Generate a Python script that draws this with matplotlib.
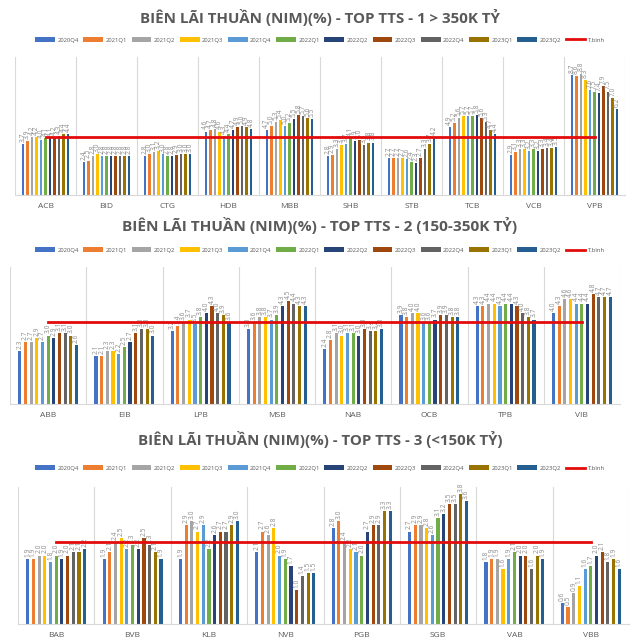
import matplotlib
matplotlib.use("Agg")
import matplotlib.pyplot as plt
import numpy as np

plt.rcParams['font.family'] = ['Open Sans', 'DejaVu Sans']

quarters = ["2020Q4", "2021Q1", "2021Q2", "2021Q3", "2021Q4", "2022Q1",
            "2022Q2", "2022Q3", "2022Q4", "2023Q1", "2023Q2"]
colors = ["#4472C4", "#ED7D31", "#A5A5A5", "#FFC000", "#5B9BD5", "#70AD47",
          "#264478", "#9E480E", "#636363", "#997300", "#255E91"]
avg_label = "T.bình"

# Panel 1: > 350K tỷ
banks1 = ["ACB", "BID", "CTG", "HDB", "MBB", "SHB", "STB", "TCB", "VCB", "VPB"]
nim1 = [
    [3.7, 3.9, 4.2, 4.2, 4.0, 4.1, 4.1, 4.2, 4.3, 4.4, 4.4],   # ACB
    [2.4, 2.5, 2.8, 3.0, 2.8, 2.8, 2.8, 2.8, 2.8, 2.8, 2.8],   # BID
    [2.8, 3.0, 3.1, 3.2, 3.0, 2.8, 2.8, 2.9, 3.0, 3.0, 3.0],   # CTG
    [4.6, 4.7, 4.8, 4.6, 4.3, 4.4, 4.7, 4.9, 5.0, 4.9, 4.8],   # HDB
    [4.7, 5.0, 5.3, 5.4, 5.0, 5.2, 5.5, 5.8, 5.7, 5.6, 5.5],   # MBB
    [2.8, 2.9, 3.3, 3.6, 3.7, 4.1, 3.9, 4.0, 3.6, 3.8, 3.8],   # SHB
    [2.7, 2.7, 2.7, 2.7, 2.6, 2.4, 2.3, 2.7, 3.3, 3.7, 4.2],   # STB
    [4.9, 5.2, 5.6, 5.7, 5.7, 5.7, 5.8, 5.6, 5.3, 4.7, 4.4],   # TCB
    [2.9, 3.1, 3.3, 3.3, 3.2, 3.3, 3.2, 3.3, 3.4, 3.4, 3.5],   # VCB
    [8.7, 8.6, 8.8, 8.3, 7.6, 7.5, 7.4, 7.9, 7.5, 7.0, 6.2],   # VPB
]
avg1 = 4.2

# Panel 2: 150-350K tỷ
banks2 = ["ABB", "EIB", "LPB", "MSB", "NAB", "OCB", "TPB", "VIB"]
nim2 = [
    [2.3, 2.7, 2.7, 2.9, 2.7, 3.0, 2.9, 3.1, 3.1, 3.0, 2.6],   # ABB
    [2.1, 2.1, 2.3, 2.3, 2.2, 2.5, 2.7, 3.1, 3.3, 3.3, 3.0],   # EIB
    [3.2, 3.4, 3.6, 3.7, 3.5, 3.8, 4.0, 4.3, 4.0, 3.9, 3.6],   # LPB
    [3.3, 3.6, 3.8, 3.8, 3.7, 3.9, 4.3, 4.5, 4.4, 4.3, 4.3],   # MSB
    [2.4, 2.8, 3.1, 3.0, 3.1, 3.1, 3.0, 3.3, 3.2, 3.2, 3.3],   # NAB
    [3.9, 3.8, 4.0, 4.0, 3.6, 3.6, 3.7, 3.9, 3.9, 3.8, 3.8],   # OCB
    [4.3, 4.3, 4.4, 4.4, 4.3, 4.4, 4.4, 4.3, 4.0, 3.8, 3.7],   # TPB
    [4.0, 4.3, 4.6, 4.6, 4.4, 4.4, 4.4, 4.8, 4.7, 4.7, 4.7],   # VIB
]
avg2 = 3.6

# Panel 3: < 150K tỷ
banks3 = ["BAB", "BVB", "KLB", "NVB", "PGB", "SGB", "VAB", "VBB"]
nim3 = [
    [1.9, 1.9, 2.0, 2.0, 1.8, 2.0, 1.9, 2.0, 2.1, 2.1, 2.2],   # BAB
    [1.9, 2.1, 2.4, 2.5, 2.2, 2.3, 2.2, 2.5, 2.3, 2.1, 1.9],   # BVB
    [1.9, 2.9, 3.0, 2.7, 2.9, 2.2, 2.6, 2.7, 2.7, 2.9, 3.0],   # KLB
    [2.1, 2.7, 2.6, 2.8, 2.0, 1.9, 1.7, 1.0, 1.4, 1.5, 1.5],   # NVB
    [2.8, 3.0, 2.4, 2.2, 2.1, 2.0, 2.7, 2.9, 2.9, 3.3, 3.3],   # PGB
    [2.7, 2.9, 2.9, 2.8, 2.6, 3.1, 3.2, 3.5, 3.5, 3.8, 3.6],   # SGB
    [1.8, 1.9, 1.9, 1.6, 1.9, 2.1, 2.0, 2.0, 1.6, 2.0, 1.9],   # VAB
    [0.6, 0.5, 0.9, 1.1, 1.6, 1.7, 2.0, 2.1, 1.8, 1.9, 1.6],   # VBB
]
avg3 = 2.4

titles = ["BIÊN LÃI THUẦN (NIM)(%) - TOP TTS - 1 > 350K TỶ",
          "BIÊN LÃI THUẦN (NIM)(%) - TOP TTS - 2 (150-350K TỶ)",
          "BIÊN LÃI THUẦN (NIM)(%) - TOP TTS - 3 (<150K TỶ)"]

W, H = 640, 644
fig = plt.figure(figsize=(W / 100, H / 100), dpi=100)
fig.patch.set_facecolor("white")

# (left, right, top, bottom) in pixels; title y, legend y, ymax, title size
panels = [
    dict(banks=banks1, data=nim1, avg=avg1, box=(15, 625, 57, 195), ty=17, ly=40, ymax=10, ts=10.9),
    dict(banks=banks2, data=nim2, avg=avg2, box=(10, 620, 267, 404), ty=226, ly=250, ymax=6, ts=11.1),
    dict(banks=banks3, data=nim3, avg=avg3, box=(18, 629, 487, 624), ty=440, ly=468, ymax=4, ts=10.8),
]

grid_c = "#D9D9D9"
lab_c = "#8C8C8C"

for i, p in enumerate(panels):
    l, r, t, b = p["box"]
    ax = fig.add_axes([l / W, 1 - b / H, (r - l) / W, (b - t) / H])
    banks = p["banks"]
    data = np.array(p["data"])
    n = len(banks)
    nq = len(quarters)
    x = np.arange(n)
    group = 0.82
    slot = group / nq
    bw = slot * 0.55
    handles = []
    for q in range(nq):
        xs = x - group / 2 + slot * (q + 0.5)
        bars = ax.bar(xs, data[:, q], width=bw, color=colors[q], label=quarters[q], zorder=2)
        handles.append(bars)
        for xx, v in zip(xs, data[:, q]):
            ax.annotate(f"{v:.1f}", (xx, v), xytext=(0, 1.5), textcoords="offset points",
                        rotation=90, ha="center", va="bottom", fontsize=4.8, color=lab_c,
                        zorder=3)
    ln, = ax.plot([0, n - 1], [p["avg"], p["avg"]], color="#E30B0B", lw=2.0,
                  label=avg_label, zorder=4)
    handles.append(ln)
    ax.set_xlim(-0.5, n - 0.5)
    ax.set_ylim(0, p["ymax"])
    for bnd in np.arange(-0.5, n, 1.0):
        ax.axvline(bnd, color=grid_c, lw=0.8, zorder=1)
    for s in ["top", "right", "left"]:
        ax.spines[s].set_visible(False)
    ax.spines["bottom"].set_color(grid_c)
    ax.set_yticks([])
    ax.set_xticks(x)
    ax.set_xticklabels(banks, fontsize=6, color="#595959")
    ax.tick_params(axis="x", length=0, pad=6)
    ax.set_facecolor("white")

    fig.text(0.5, 1 - p["ty"] / H, titles[i], ha="center", va="center",
             fontsize=p["ts"], fontweight="bold", color="#595959")
    fig.legend(handles=handles, labels=quarters + [avg_label], loc="center",
               bbox_to_anchor=(0.5, 1 - p["ly"] / H), ncol=12, frameon=False,
               fontsize=4.2, handlelength=3.4, handleheight=0.7, columnspacing=0.8,
               handletextpad=0.4, borderpad=0, labelcolor="#595959")

fig.savefig("out.png", dpi=100, facecolor="white")
